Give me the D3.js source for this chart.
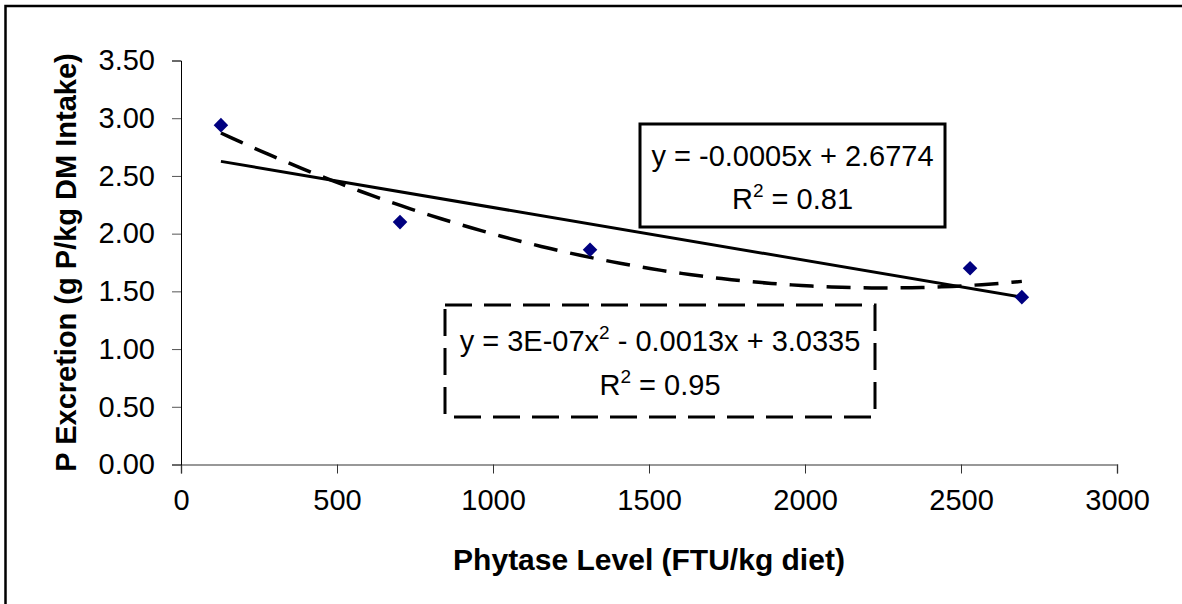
<!DOCTYPE html>
<html lang="en">
<head>
  <meta charset="UTF-8">
  <title>P Excretion vs Phytase Level</title>
  <style>
    html, body { margin: 0; background: #fff; overflow: hidden; }
    svg { display: block; }
    text { font-family: "Liberation Sans", Arial, sans-serif; }
  </style>
</head>
<body>
  <script src="https://d3js.org/d3.v7.min.js"></script>
  <script>
    // data
    const phytase = [128, 702, 1311, 2529, 2695];
    const excretion = [2.94, 2.10, 1.86, 1.70, 1.45];

    const xTicks = [0, 500, 1000, 1500, 2000, 2500, 3000];
    const yTicks = [0, 0.5, 1, 1.5, 2, 2.5, 3, 3.5];

    const xTitle = "Phytase Level (FTU/kg diet)";
    const yTitle = "P Excretion (g P/kg DM Intake)";

    // trendline labels as Excel printed them: [before sup, sup, after sup]
    const linLabel = [["y = -0.0005x + 2.6774", "", ""], ["R", "2", " = 0.81"]];
    const polyLabel = [["y = 3E-07x", "2", " - 0.0013x + 3.0335"], ["R", "2", " = 0.95"]];

    const svgWidth = 1182, svgHeight = 604;
    const margin = { top: 60.5, left: 181, right: 65, bottom: 139.5 };
    const width = svgWidth - margin.left - margin.right,
      height = svgHeight - margin.top - margin.bottom;

    const svg = d3.select("body").append("svg")
      .attr("width", svgWidth)
      .attr("height", svgHeight);

    // outer chart border: only the top and left edges are inside the picture
    svg.append("path")
      .attr("d", `M5.5,${svgHeight}V6H${svgWidth}`)
      .attr("fill", "none").attr("stroke", "#000").attr("stroke-width", 2.5);

    const x = d3.scaleLinear().domain([0, 3000]).range([0, width]);
    const y = d3.scaleLinear().domain([0, 3.5]).range([height, 0]);

    const g = svg.append("g").attr("transform", `translate(${margin.left},${margin.top})`);

    // x axis
    const xAxis = g.append("g")
      .attr("transform", `translate(0,${height})`)
      .call(d3.axisBottom(x).tickValues(xTicks).tickFormat(d3.format("d")).tickSize(9).tickPadding(16));
    xAxis.select(".domain").attr("stroke", "#777").attr("stroke-width", 1.5);
    xAxis.selectAll(".tick line").attr("stroke", "#333");
    xAxis.selectAll("text").attr("font-size", 29).attr("fill", "#000");

    // y axis
    const yAxis = g.append("g")
      .call(d3.axisLeft(y).tickValues(yTicks).tickFormat(d3.format(".2f")).tickSize(9).tickPadding(17));
    yAxis.select(".domain").attr("stroke", "#000");
    yAxis.selectAll(".tick line").attr("stroke", "#555");
    yAxis.selectAll("text").attr("font-size", 29).attr("fill", "#000");

    // axis titles
    svg.append("text")
      .attr("x", margin.left + width / 2).attr("y", 570)
      .attr("text-anchor", "middle")
      .attr("font-size", 30).attr("font-weight", "bold")
      .text(xTitle);

    svg.append("text")
      .attr("transform", `translate(76,${margin.top + height / 2}) rotate(-90)`)
      .attr("text-anchor", "middle")
      .attr("font-size", 29).attr("font-weight", "bold")
      .text(yTitle);

    // least squares fits
    const n = phytase.length;
    const mx = d3.mean(phytase), my = d3.mean(excretion);
    const slope = d3.sum(phytase, (v, i) => (v - mx) * (excretion[i] - my)) /
      d3.sum(phytase, v => (v - mx) * (v - mx));
    const icpt = my - slope * mx;

    // quadratic: solve 3x3 normal equations
    const s = k => d3.sum(phytase, v => Math.pow(v, k));
    const t = k => d3.sum(phytase, (v, i) => Math.pow(v, k) * excretion[i]);
    const A = [[n, s(1), s(2)], [s(1), s(2), s(3)], [s(2), s(3), s(4)]];
    const B = [t(0), t(1), t(2)];
    function solve(A, B) {
      const M = A.map((r, i) => r.concat([B[i]]));
      for (let c = 0; c < 3; c++) {
        let p = c;
        for (let r = c + 1; r < 3; r++) if (Math.abs(M[r][c]) > Math.abs(M[p][c])) p = r;
        [M[c], M[p]] = [M[p], M[c]];
        for (let r = 0; r < 3; r++) {
          if (r === c) continue;
          const f = M[r][c] / M[c][c];
          for (let k = c; k < 4; k++) M[r][k] -= f * M[c][k];
        }
      }
      return M.map((r, i) => r[3] / r[i]);
    }
    const [c0, c1, c2] = solve(A, B);

    const xMin = d3.min(phytase), xMax = d3.max(phytase);

    // linear trendline
    g.append("line")
      .attr("x1", x(xMin)).attr("y1", y(icpt + slope * xMin))
      .attr("x2", x(xMax)).attr("y2", y(icpt + slope * xMax))
      .attr("stroke", "#000").attr("stroke-width", 3);

    // polynomial trendline
    const curveX = d3.range(xMin, xMax + 1, (xMax - xMin) / 80);
    g.append("path")
      .datum(curveX)
      .attr("d", d3.line().x(d => x(d)).y(d => y(c0 + c1 * d + c2 * d * d)))
      .attr("fill", "none").attr("stroke", "#000").attr("stroke-width", 3.5)
      .attr("stroke-dasharray", "24,13");

    // data points
    g.selectAll(".pt").data(phytase).enter().append("path")
      .attr("class", "pt")
      .attr("transform", (d, i) => `translate(${x(d)},${y(excretion[i])})`)
      .attr("d", d3.symbol().type(d3.symbolDiamond2).size(135))
      .attr("fill", "#000080");

    // equation boxes
    function eqBox(box, lines, dashed) {
      svg.append("rect")
        .attr("x", box.x).attr("y", box.y).attr("width", box.w).attr("height", box.h)
        .attr("fill", "#fff").attr("stroke", "#000").attr("stroke-width", 3)
        .attr("stroke-dasharray", dashed ? "27,12" : null);
      lines.forEach((ln, i) => {
        const tx = svg.append("text")
          .attr("x", box.x + box.w / 2).attr("y", box.base[i])
          .attr("text-anchor", "middle").attr("font-size", 29);
        tx.append("tspan").text(ln[0]);
        if (ln[1]) {
          tx.append("tspan").attr("dy", -12).attr("font-size", 19).text(ln[1]);
          tx.append("tspan").attr("dy", 12).text(ln[2]);
        }
      });
    }
    eqBox({ x: 640, y: 124, w: 305, h: 103, base: [166, 209] }, linLabel, false);
    eqBox({ x: 445, y: 305, w: 430, h: 112, base: [351, 395] }, polyLabel, true);
  </script>
</body>
</html>
